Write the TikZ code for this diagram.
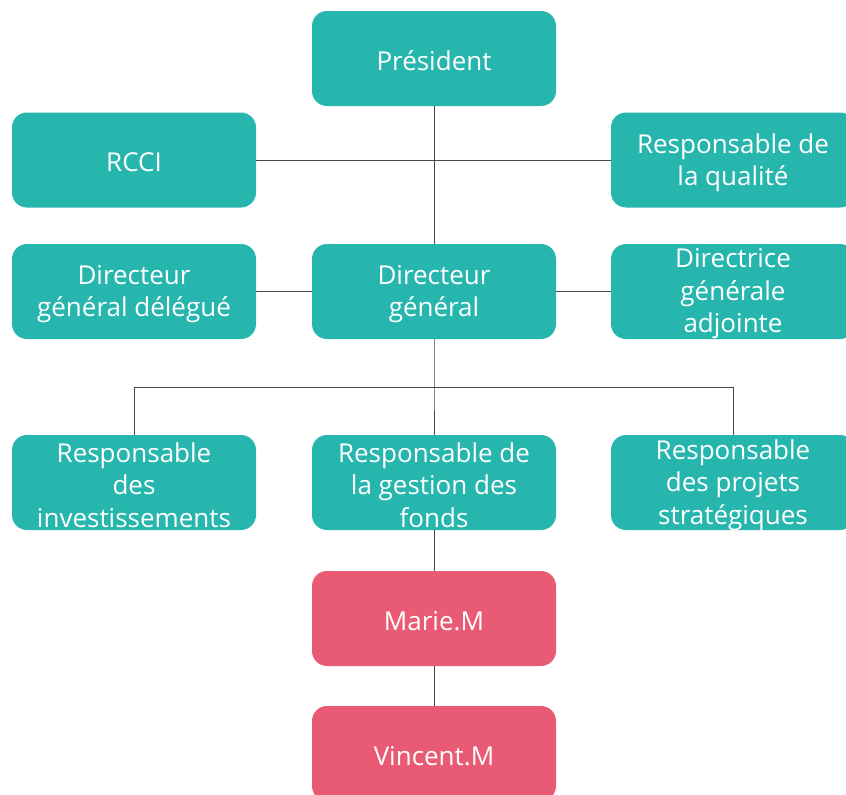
\documentclass[tikz,border=0pt]{standalone}
\usepackage{fontspec}
\setmainfont{Open Sans}
\definecolor{teal1}{RGB}{39,182,174}
\definecolor{pink1}{RGB}{233,91,116}
\definecolor{linec}{RGB}{70,70,70}
\begin{document}
\begin{tikzpicture}[x=1pt,y=1pt,
  box/.style={fill=teal1, rounded corners=15pt, minimum width=244pt, minimum height=95pt,
    inner sep=0pt, label={[txt]center:#1}},
  pbox/.style={box=#1, fill=pink1},
  txt/.style={text=white, align=center, inner sep=0pt, yshift=-2.5pt, font=\fontsize{26}{32.5}\selectfont},
  conn/.style={draw=linec, line width=1pt}]
\useasboundingbox (0,0) rectangle (846,-795);
\node[box={Président}] (pres) at (434,-58.5) {};
\node[box={RCCI}] (rcci) at (134,-160) {};
\node[box={Responsable de\\la qualité}] (qual) at (733,-160) {};
\node[box={Directeur\\général délégué}] (dgd) at (134,-291.5) {};
\node[box={Directeur\\général}] (dg) at (434,-291.5) {};
\node[box={Directrice\\générale\\adjointe}] (dga) at (733,-291.5) {};
\node[box={Responsable\\des\\investissements}] (inv) at (134,-482.5) {};
\node[box={Responsable de\\la gestion des\\fonds}] (fonds) at (434,-482.5) {};
\node[box={Responsable\\des projets\\stratégiques}] (proj) at (733,-482.5) {};
\node[pbox={Marie.M}] (marie) at (434,-618.5) {};
\node[pbox={Vincent.M}] (vinc) at (434,-753.5) {};
\coordinate (bus) at (434,-387);
\draw[conn] (pres.south) -- (dg.north);
\draw[conn] (rcci.east) -- (qual.west);
\draw[conn] (dgd.east) -- (dg.west);
\draw[conn] (dg.east) -- (dga.west);
\draw[conn] (dg.south) -- (bus) -- (fonds.north);
\draw[conn] (inv.north) -- (inv.north |- bus) -- (proj.north |- bus) -- (proj.north);
\draw[conn] (fonds.south) -- (marie.north);
\draw[conn] (marie.south) -- (vinc.north);
\end{tikzpicture}
\end{document}
